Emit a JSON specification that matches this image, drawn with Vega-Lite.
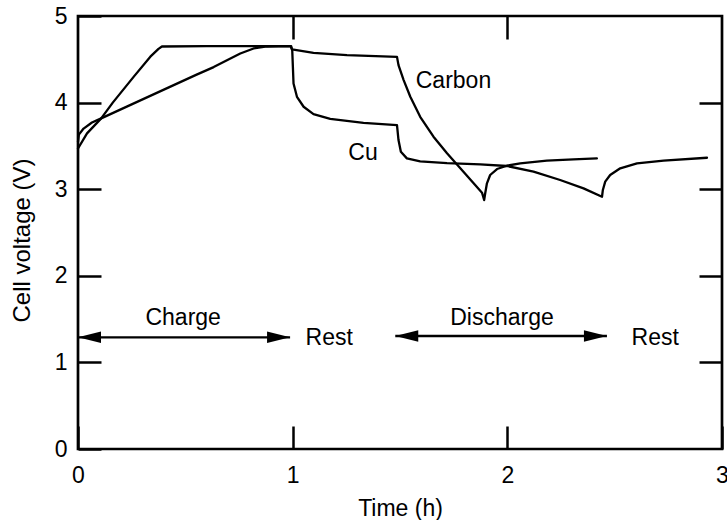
{
  "$schema": "https://vega.github.io/schema/vega-lite/v6.json",
  "autosize": {"type": "none"},
  "width": 644,
  "height": 433,
  "padding": {"left": 78, "top": 16, "right": 5, "bottom": 71},
  "background": "white",
  "config": {
    "view": {"stroke": "black", "strokeWidth": 2.7},
    "font": "Liberation Sans",
    "axis": {
      "grid": false,
      "domain": false,
      "ticks": true,
      "tickColor": "black",
      "tickWidth": 2.5,
      "tickSize": -23,
      "labelColor": "black",
      "labelFont": "Liberation Sans",
      "labelFontSize": 23,
      "titleFont": "Liberation Sans",
      "titleFontSize": 23,
      "titleFontWeight": "normal",
      "titleColor": "black"
    }
  },
  "datasets": {
    "curves": [
      {"series": "Cu", "t": 0, "v": 3.47},
      {"series": "Cu", "t": 0.042, "v": 3.645},
      {"series": "Cu", "t": 0.108, "v": 3.818},
      {"series": "Cu", "t": 0.162, "v": 4.0},
      {"series": "Cu", "t": 0.26, "v": 4.3},
      {"series": "Cu", "t": 0.337, "v": 4.53},
      {"series": "Cu", "t": 0.375, "v": 4.62},
      {"series": "Cu", "t": 0.391, "v": 4.648},
      {"series": "Cu", "t": 0.6, "v": 4.652},
      {"series": "Cu", "t": 0.993, "v": 4.652},
      {"series": "Cu", "t": 0.998, "v": 4.606},
      {"series": "Cu", "t": 1.001, "v": 4.413},
      {"series": "Cu", "t": 1.004, "v": 4.221},
      {"series": "Cu", "t": 1.02, "v": 4.067},
      {"series": "Cu", "t": 1.051, "v": 3.952},
      {"series": "Cu", "t": 1.097, "v": 3.867},
      {"series": "Cu", "t": 1.175, "v": 3.813},
      {"series": "Cu", "t": 1.33, "v": 3.767},
      {"series": "Cu", "t": 1.486, "v": 3.74},
      {"series": "Cu", "t": 1.493, "v": 3.567},
      {"series": "Cu", "t": 1.504, "v": 3.433},
      {"series": "Cu", "t": 1.532, "v": 3.356},
      {"series": "Cu", "t": 1.594, "v": 3.322},
      {"series": "Cu", "t": 1.719, "v": 3.302},
      {"series": "Cu", "t": 1.874, "v": 3.287},
      {"series": "Cu", "t": 1.998, "v": 3.268},
      {"series": "Cu", "t": 2.122, "v": 3.202},
      {"series": "Cu", "t": 2.246, "v": 3.106},
      {"series": "Cu", "t": 2.355, "v": 3.01},
      {"series": "Cu", "t": 2.441, "v": 2.913},
      {"series": "Cu", "t": 2.445, "v": 2.991},
      {"series": "Cu", "t": 2.456, "v": 3.087},
      {"series": "Cu", "t": 2.479, "v": 3.164},
      {"series": "Cu", "t": 2.526, "v": 3.241},
      {"series": "Cu", "t": 2.604, "v": 3.299},
      {"series": "Cu", "t": 2.728, "v": 3.329},
      {"series": "Cu", "t": 2.93, "v": 3.363},
      {"series": "Carbon", "t": 0, "v": 3.55},
      {"series": "Carbon", "t": 0.004, "v": 3.63},
      {"series": "Carbon", "t": 0.026, "v": 3.7},
      {"series": "Carbon", "t": 0.065, "v": 3.77},
      {"series": "Carbon", "t": 0.108, "v": 3.818},
      {"series": "Carbon", "t": 0.25, "v": 3.98},
      {"series": "Carbon", "t": 0.4, "v": 4.15},
      {"series": "Carbon", "t": 0.55, "v": 4.32},
      {"series": "Carbon", "t": 0.632, "v": 4.41},
      {"series": "Carbon", "t": 0.694, "v": 4.49},
      {"series": "Carbon", "t": 0.756, "v": 4.567},
      {"series": "Carbon", "t": 0.818, "v": 4.625},
      {"series": "Carbon", "t": 0.88, "v": 4.648},
      {"series": "Carbon", "t": 0.99, "v": 4.652},
      {"series": "Carbon", "t": 0.997, "v": 4.614},
      {"series": "Carbon", "t": 1.097, "v": 4.574},
      {"series": "Carbon", "t": 1.253, "v": 4.548},
      {"series": "Carbon", "t": 1.486, "v": 4.528},
      {"series": "Carbon", "t": 1.493, "v": 4.433},
      {"series": "Carbon", "t": 1.517, "v": 4.26},
      {"series": "Carbon", "t": 1.548, "v": 4.067},
      {"series": "Carbon", "t": 1.594, "v": 3.836},
      {"series": "Carbon", "t": 1.656, "v": 3.606},
      {"series": "Carbon", "t": 1.719, "v": 3.414},
      {"series": "Carbon", "t": 1.781, "v": 3.241},
      {"series": "Carbon", "t": 1.843, "v": 3.068},
      {"series": "Carbon", "t": 1.882, "v": 2.96},
      {"series": "Carbon", "t": 1.892, "v": 2.875},
      {"series": "Carbon", "t": 1.897, "v": 2.953},
      {"series": "Carbon", "t": 1.905, "v": 3.068},
      {"series": "Carbon", "t": 1.92, "v": 3.164},
      {"series": "Carbon", "t": 1.952, "v": 3.233},
      {"series": "Carbon", "t": 1.998, "v": 3.271},
      {"series": "Carbon", "t": 2.06, "v": 3.299},
      {"series": "Carbon", "t": 2.184, "v": 3.329},
      {"series": "Carbon", "t": 2.308, "v": 3.345},
      {"series": "Carbon", "t": 2.417, "v": 3.356}
    ],
    "arrows": [
      {"phase": "Charge", "t1": 0.0, "t2": 0.988, "v": 1.29},
      {"phase": "Discharge", "t1": 1.478, "t2": 2.464, "v": 1.305}
    ],
    "heads": [
      {"t": 0.0, "v": 1.29, "dir": "left"},
      {"t": 0.988, "v": 1.29, "dir": "right"},
      {"t": 1.478, "v": 1.305, "dir": "left"},
      {"t": 2.464, "v": 1.305, "dir": "right"}
    ],
    "labels": [
      {"text": "Charge", "t": 0.49, "v": 1.43},
      {"text": "Discharge", "t": 1.975, "v": 1.43},
      {"text": "Rest", "t": 1.17, "v": 1.203},
      {"text": "Rest", "t": 2.689, "v": 1.203},
      {"text": "Carbon", "t": 1.749, "v": 4.164},
      {"text": "Cu", "t": 1.328, "v": 3.337}
    ]
  },
  "layer": [
    {
      "data": {"name": "curves"},
      "mark": {"type": "line", "color": "black", "strokeWidth": 2.3, "strokeJoin": "round", "strokeCap": "round"},
      "encoding": {
        "x": {
          "field": "t", "type": "quantitative",
          "scale": {"domain": [0, 3], "nice": false, "zero": false},
          "axis": {"orient": "bottom", "values": [0, 1, 2, 3], "format": "d", "labelPadding": 38, "labelFlush": false, "title": "Time (h)", "titleY": 48, "titleBaseline": "top"}
        },
        "y": {
          "field": "v", "type": "quantitative",
          "scale": {"domain": [0, 5], "nice": false, "zero": false},
          "axis": {"orient": "left", "values": [0, 1, 2, 3, 4, 5], "format": "d", "labelPadding": 34, "labelFlush": false, "title": "Cell voltage (V)", "titleFontSize": 24, "titleX": -44, "titleY": 224, "titleBaseline": "bottom", "titleAngle": 270}
        },
        "detail": {"field": "series"}
      }
    },
    {
      "data": {"name": "arrows"},
      "mark": {"type": "rule", "color": "black", "strokeWidth": 2.3},
      "encoding": {
        "x": {"field": "t1", "type": "quantitative", "axis": {"orient": "top", "values": [1, 2], "labels": false, "title": null}},
        "x2": {"field": "t2"},
        "y": {"field": "v", "type": "quantitative", "axis": {"orient": "right", "values": [1, 2, 3, 4], "labels": false, "title": null}}
      }
    },
    {
      "data": {"name": "heads"},
      "transform": [{"filter": "datum.dir === 'right'"}],
      "mark": {"type": "point", "filled": true, "color": "black", "opacity": 1, "size": 529, "shape": "M0,0L-2,-0.5L-2,0.5Z", "strokeWidth": 0},
      "encoding": {
        "x": {"field": "t", "type": "quantitative", "axis": null},
        "y": {"field": "v", "type": "quantitative", "axis": null}
      }
    },
    {
      "data": {"name": "heads"},
      "transform": [{"filter": "datum.dir === 'left'"}],
      "mark": {"type": "point", "filled": true, "color": "black", "opacity": 1, "size": 529, "shape": "M0,0L2,-0.5L2,0.5Z", "strokeWidth": 0},
      "encoding": {
        "x": {"field": "t", "type": "quantitative", "axis": null},
        "y": {"field": "v", "type": "quantitative", "axis": null}
      }
    },
    {
      "data": {"name": "labels"},
      "mark": {"type": "text", "font": "Liberation Sans", "fontSize": 23, "color": "black", "align": "center", "baseline": "alphabetic"},
      "encoding": {
        "x": {"field": "t", "type": "quantitative", "axis": null},
        "y": {"field": "v", "type": "quantitative", "axis": null},
        "text": {"field": "text"}
      }
    }
  ],
  "resolve": {"axis": {"x": "independent", "y": "independent"}}
}
